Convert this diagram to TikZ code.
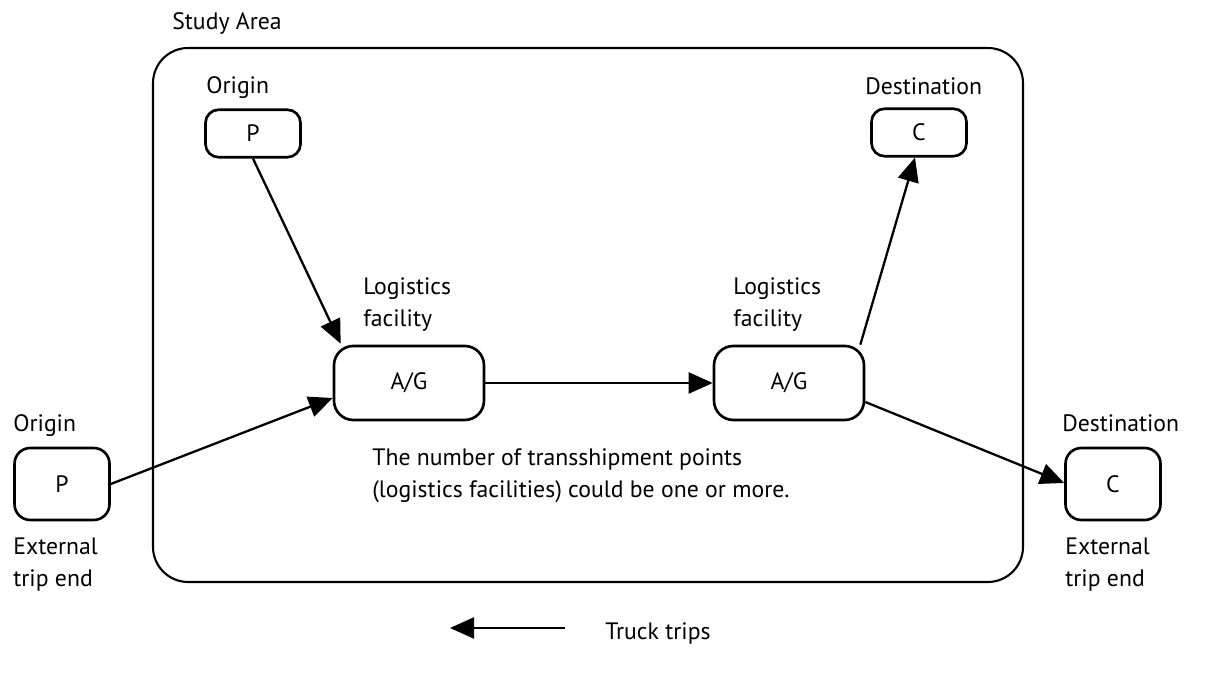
\documentclass[tikz,border=0pt]{standalone}
\usepackage{fontspec}
\setmainfont{PT Sans}
\usepackage{tikz}
\usetikzlibrary{arrows.meta,positioning,calc}
\tikzset{
  >={Triangle[length=4.8mm,width=4.2mm]},
  tripend/.style ={draw,line width=1.5pt,rounded corners=7.5pt,
                   minimum width=19mm,minimum height=9.5mm,font=\lblfont},
  extend/.style  ={tripend,rounded corners=9pt,minimum height=14.4mm},
  facility/.style={draw,line width=1.5pt,rounded corners=11pt,
                   minimum width=30mm,minimum height=14.8mm,font=\lblfont},
  lbl/.style     ={font=\lblfont,inner sep=0pt,anchor=base west},
  flow/.style    ={->,line width=1.3pt},
  area/.style    ={draw,line width=1.2pt,rounded corners=20pt},
}
\newcommand{\lblfont}{\fontsize{13.5}{18.1}\selectfont}

\begin{document}
\begin{tikzpicture}
\useasboundingbox (0,0) rectangle (24.1,13.46);
% study area
\draw[area] (3.06,1.82) rectangle (20.46,12.5);
\node[lbl] (arealbl) at (3.44,12.86) {Study Area};
% trip ends inside the area
\node[tripend] (ptop) at (5.06,10.79) {P};
\node[lbl] (ptoplbl) at (4.12,11.58) {Origin};
\node[tripend] (ctop) at (18.38,10.81) {C};
\node[lbl] (ctoplbl) at (17.3,11.56) {Destination};
% logistics facilities
\node[facility] (agl) at (8.18,5.8) {A/G};
\node[lbl] (agllbl1) at (7.26,7.56) {Logistics};
\node[lbl] (agllbl2) at (7.26,6.92) {facility};
\node[facility] (agr) at (15.78,5.8) {A/G};
\node[lbl] (agrlbl1) at (14.66,7.56) {Logistics};
\node[lbl] (agrlbl2) at (14.66,6.92) {facility};
% external trip ends
\node[extend] (pext) at (1.24,3.78) {P};
\node[lbl] (pextlbl) at (0.26,4.82) {Origin};
\node[lbl] (pextnote1) at (0.26,2.36) {External};
\node[lbl] (pextnote2) at (0.26,1.72) {trip end};
\node[extend] (cext) at (22.26,3.78) {C};
\node[lbl] (cextlbl) at (21.24,4.82) {Destination};
\node[lbl] (cextnote1) at (21.3,2.36) {External};
\node[lbl] (cextnote2) at (21.3,1.72) {trip end};
% note
\node[lbl] (note1) at (7.44,4.14) {The number of transshipment points};
\node[lbl] (note2) at (7.44,3.5) {(logistics facilities) could be one or more.};
% truck trips
\draw[flow] (ptop.south) -- ($(agl.north west)+(0.16,0.02)$);
\draw[flow] (pext.east) -- ($(agl.west)+(0,-0.3)$);
\draw[flow] (agl.east) -- (agr.west);
\draw[flow] ($(agr.north east)+(-0.1,0)$) -- ($(ctop.south)+(-0.08,0)$);
\draw[flow] ($(agr.east)+(0,-0.38)$) -- ($(cext.west)+(0,0.02)$);
% legend
\coordinate (keyfrom) at (11.3,0.9);
\coordinate (keyto) at (9.0,0.9);
\draw[flow] (keyfrom) -- (keyto);
\node[lbl] (keylbl) at (12.1,0.66) {Truck trips};
\end{tikzpicture}
\end{document}
